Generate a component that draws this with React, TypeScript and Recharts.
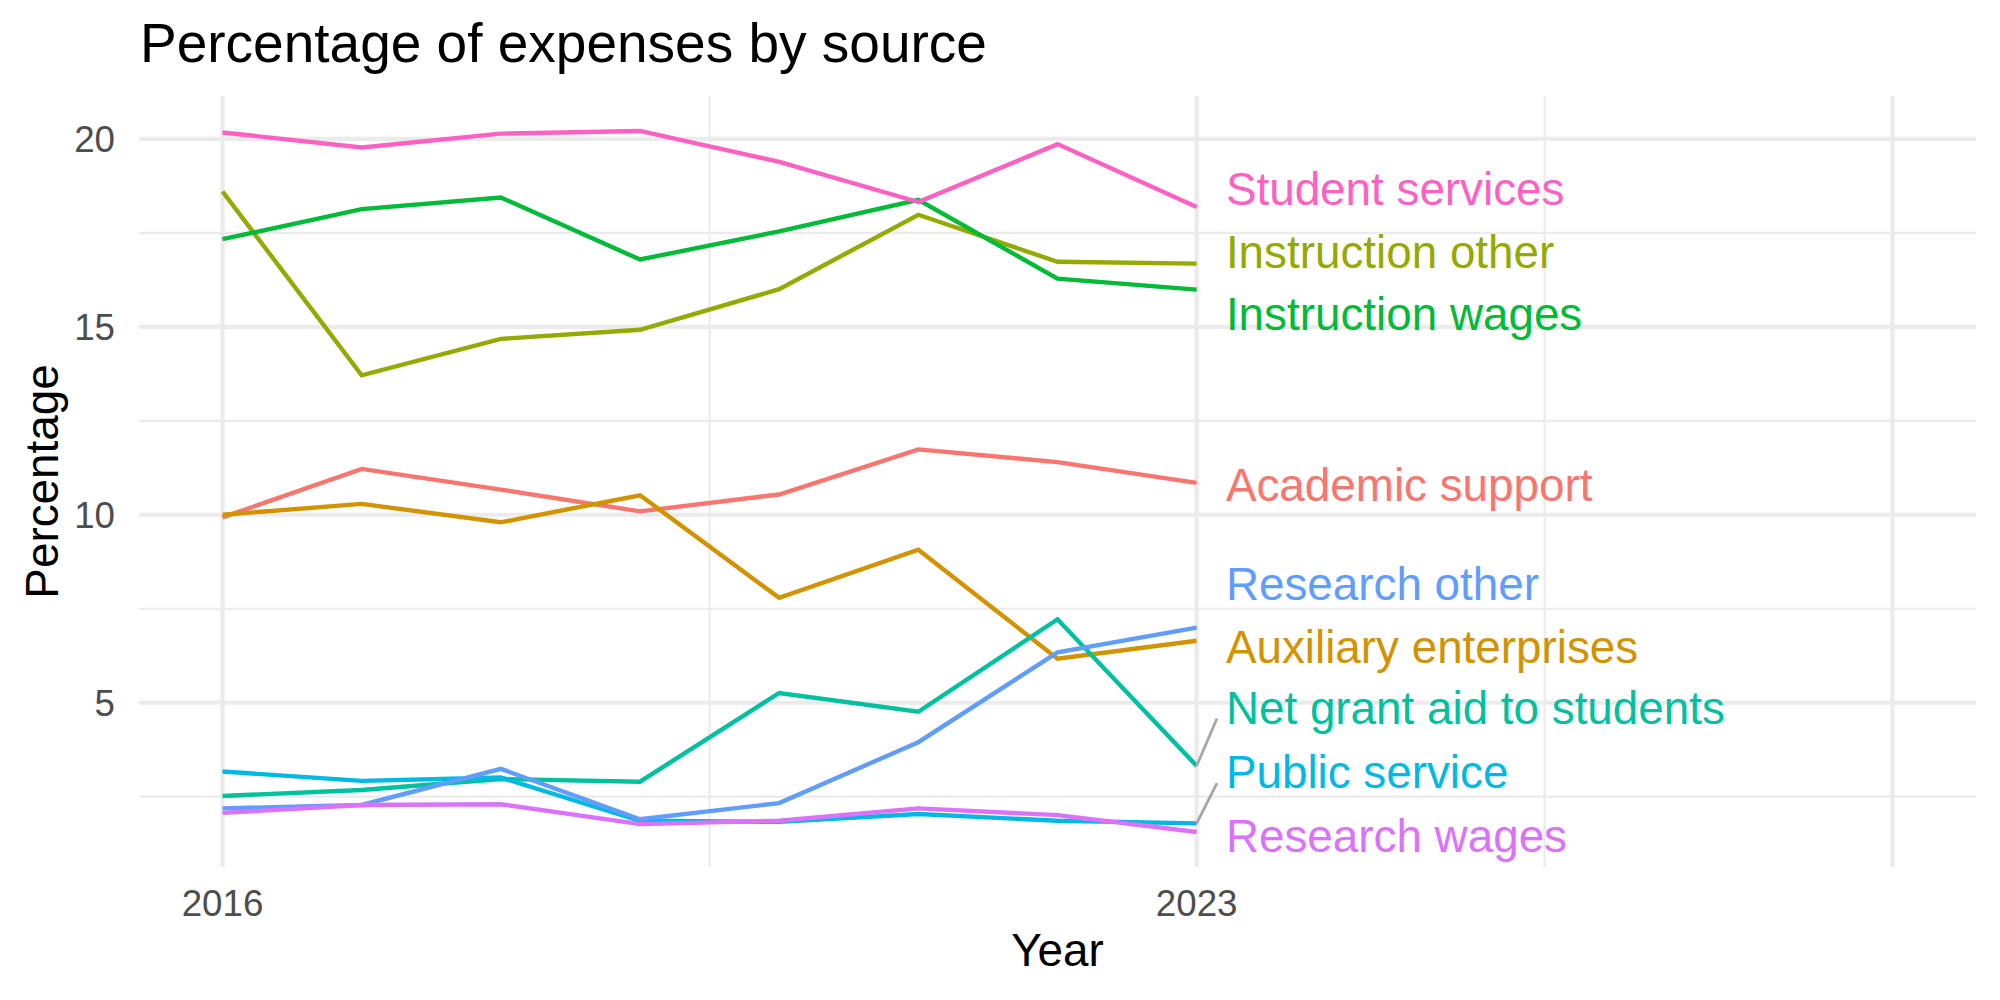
import React from 'react';
import {
  LineChart,
  Line,
  XAxis,
  YAxis,
  CartesianGrid,
  ReferenceDot,
  ReferenceLine,
} from 'recharts';

const FONT = '"Liberation Sans", Arial, sans-serif';

// years on the x axis
const years = [2016, 2017, 2018, 2019, 2020, 2021, 2022, 2023];

// percentage of expenses by source
const academicSupport = [9.93, 11.22, 10.67, 10.09, 10.54, 11.74, 11.4, 10.85];
const auxiliaryEnterprises = [10.0, 10.29, 9.8, 10.52, 7.79, 9.07, 6.17, 6.65];
const instructionOther = [18.6, 13.71, 14.68, 14.92, 16.0, 17.98, 16.73, 16.68];
const instructionWages = [17.33, 18.13, 18.44, 16.79, 17.54, 18.38, 16.28, 15.99];
const netGrantAid = [2.52, 2.68, 2.97, 2.9, 5.26, 4.76, 7.22, 3.32];
const publicService = [3.17, 2.92, 3.01, 1.86, 1.83, 2.04, 1.86, 1.79];
const researchOther = [2.19, 2.28, 3.24, 1.9, 2.33, 3.95, 6.34, 7.0];
const researchWages = [2.07, 2.28, 2.3, 1.77, 1.86, 2.19, 2.01, 1.56];
const studentServices = [20.17, 19.77, 20.14, 20.21, 19.39, 18.32, 19.86, 18.19];

// tick labels and grid breaks
const xTicks = [2016, 2023, 2028];
const xMinorTicks = [2019.5, 2025.5];
const yTicks = [5, 10, 15, 20];
const yMinorTicks = [2.5, 7.5, 12.5, 17.5];

// series: key, label, colour, repelled label value, label segment end (if any)
const seriesKeys = [
  'academic', 'auxiliary', 'instrOther', 'instrWages', 'netGrant',
  'publicService', 'researchOther', 'researchWages', 'studentServices',
];
const seriesNames = [
  'Academic support', 'Auxiliary enterprises', 'Instruction other', 'Instruction wages',
  'Net grant aid to students', 'Public service', 'Research other', 'Research wages',
  'Student services',
];
const seriesColors = [
  '#F8766D', '#D39200', '#93AA00', '#00BA38', '#00C19F',
  '#00B9E3', '#619CFF', '#DB72FB', '#FF61C3',
];
const seriesValues = [
  academicSupport, auxiliaryEnterprises, instructionOther, instructionWages, netGrantAid,
  publicService, researchOther, researchWages, studentServices,
];
const labelValues = [10.8, 6.49, 17.0, 15.34, 4.86, 3.16, 8.15, 1.46, 18.68];
const segmentEnds: (number | null)[] = [null, null, null, null, 4.58, 2.86, null, null, null];
const labelNudge = 0.21;
const segmentNudge = 0.146;

const rows = years.map((year, i) => {
  const row: Record<string, number> = { year };
  seriesKeys.forEach((k, s) => {
    row[k] = seriesValues[s][i];
  });
  return row;
});

const lastYear = years[years.length - 1];

export default function App() {
  return (
    <div style={{ position: 'relative', width: 2000, height: 1000, background: '#fff' }}>
      <style>{'body{margin:0}'}</style>
      <div
        style={{
          position: 'absolute',
          left: 140,
          top: 16,
          fontFamily: FONT,
          fontSize: 55,
          lineHeight: '55px',
          color: '#000',
          whiteSpace: 'nowrap',
        }}
      >
        Percentage of expenses by source
      </div>
      <LineChart
        width={2000}
        height={1000}
        data={rows}
        margin={{ top: 96, right: 24, bottom: 73, left: 39 }}
      >
        {/* minor grid first, then major grid on top */}
        <CartesianGrid
          horizontalValues={yMinorTicks}
          verticalValues={xMinorTicks}
          stroke="#EBEBEB"
          strokeWidth={2.2}
        />
        <CartesianGrid
          horizontalValues={yTicks}
          verticalValues={xTicks}
          stroke="#EBEBEB"
          strokeWidth={4.2}
        />
        <XAxis
          dataKey="year"
          type="number"
          domain={[2015.4, 2028.6]}
          ticks={xTicks}
          interval={0}
          tickFormatter={(v: number) => (v === 2028 ? '' : String(v))}
          axisLine={false}
          tickLine={false}
          tickSize={0}
          tickMargin={23}
          height={60}
          tick={{ fill: '#4D4D4D', fontSize: 36.7, fontFamily: FONT }}
          label={{
            content: (props: any) => {
              const vb = props.viewBox;
              return (
                <text
                  x={vb.x + vb.width / 2}
                  y={950}
                  dy="0.35em"
                  textAnchor="middle"
                  fill="#000"
                  fontSize={45.8}
                  fontFamily={FONT}
                >
                  Year
                </text>
              );
            },
          }}
        />
        <YAxis
          type="number"
          domain={[0.63, 21.14]}
          ticks={yTicks}
          interval={0}
          axisLine={false}
          tickLine={false}
          tickSize={0}
          tickMargin={24}
          width={100}
          tick={{ fill: '#4D4D4D', fontSize: 36.7, fontFamily: FONT }}
          label={{
            content: (props: any) => {
              const vb = props.viewBox;
              const cy = vb.y + vb.height / 2;
              return (
                <text
                  x={42}
                  y={cy}
                  dy="0.35em"
                  textAnchor="middle"
                  fill="#000"
                  fontSize={45.8}
                  fontFamily={FONT}
                  transform={`rotate(-90, 42, ${cy})`}
                >
                  Percentage
                </text>
              );
            },
          }}
        />
        {seriesKeys.map((k, s) => (
          <Line
            key={k}
            dataKey={k}
            name={seriesNames[s]}
            stroke={seriesColors[s]}
            strokeWidth={4.4}
            dot={false}
            activeDot={false}
            isAnimationActive={false}
          />
        ))}
        {seriesKeys.map((k, s) =>
          segmentEnds[s] == null ? null : (
            <ReferenceLine
              key={`seg-${k}`}
              segment={[
                { x: lastYear, y: seriesValues[s][seriesValues[s].length - 1] },
                { x: lastYear + segmentNudge, y: segmentEnds[s] as number },
              ]}
              stroke="#A6A6A6"
              strokeWidth={2.8}
            />
          )
        )}
        {seriesKeys.map((k, s) => (
          <ReferenceDot
            key={`lab-${k}`}
            x={lastYear + labelNudge}
            y={labelValues[s]}
            r={0}
            shape={(p: any) => (
              <text
                x={p.cx}
                y={p.cy}
                dy="0.35em"
                textAnchor="start"
                fill={seriesColors[s]}
                fontSize={45.8}
                fontFamily={FONT}
              >
                {seriesNames[s]}
              </text>
            )}
          />
        ))}
      </LineChart>
    </div>
  );
}
